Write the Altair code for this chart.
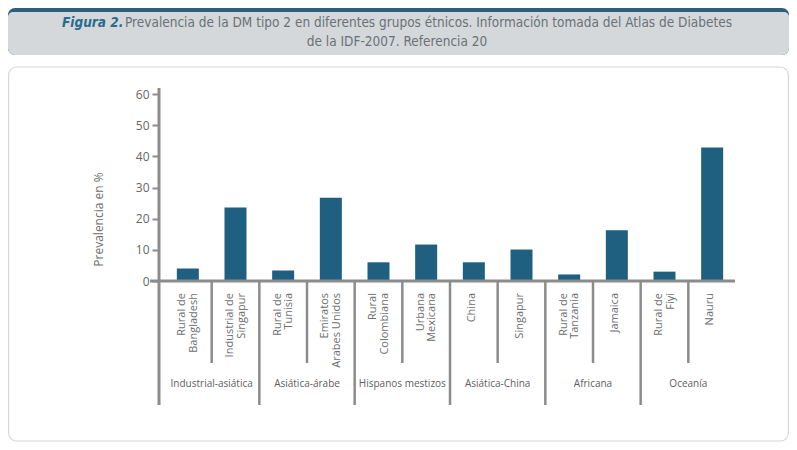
import altair as alt
import pandas as pd

# ---- data ----
categories = ["Rural de\nBangladesh", "Industrial de\nSingapur", "Rural de\nTunisia",
              "Emiratos\nArabes Unidos", "Rural\nColombiana", "Urbana\nMexicana",
              "China", "Singapur", "Rural de\nTanzania", "Jamaica", "Rural de\nFiyi", "Nauru"]
values = [4.0, 23.6, 3.4, 26.7, 6.0, 11.7, 6.0, 10.1, 2.1, 16.3, 3.0, 42.8]
groups = ["Industrial-asiática", "Asiática-árabe", "Hispanos mestizos",
          "Asiática-China", "Africana", "Oceanía"]
y_ticks = [0, 10, 20, 30, 40, 50, 60]

title_bold = "Figura 2."
title_line1 = "Prevalencia de la DM tipo 2 en diferentes grupos étnicos. Información tomada del Atlas de Diabetes"
title_line2 = "de la IDF-2007. Referencia 20"

bars_df = pd.DataFrame({"pos": [i + 0.5 for i in range(len(categories))],
                        "label": categories, "value": values,
                        "lines": [c.count("\n") + 1 for c in categories]})
groups_df = pd.DataFrame({"pos": [2 * k + 1 for k in range(len(groups))], "group": groups})
outer_sep = pd.DataFrame({"pos": [2 * k for k in range(1, len(groups))]})
inner_sep = pd.DataFrame({"pos": [2 * k + 1 for k in range(len(groups))]})
dummy = pd.DataFrame({"a": [0]})

BAR = "#1f5f80"
AX = "#8c8c8c"
TXT = "#6e6e6e"
FONT = "Open Sans"
NARROW = "Liberation Sans Narrow, DejaVu Sans Condensed, Roboto Condensed, sans-serif"

W, H = 582, 187
xs = alt.Scale(domain=[0, 12], nice=False, zero=False)
ys = alt.Scale(domain=[0, 60], nice=False)

# decorative header + panel
header_teal = alt.Chart(dummy).mark_rect(color="#2b5f7b", cornerRadius=7).encode(
    x=alt.value(-151), x2=alt.value(630), y=alt.value(-86), y2=alt.value(-39))
header_gray = alt.Chart(dummy).mark_rect(color="#d4d8db", cornerRadiusBottomLeft=7,
                                         cornerRadiusBottomRight=7, cornerRadiusTopLeft=5,
                                         cornerRadiusTopRight=5).encode(
    x=alt.value(-151), x2=alt.value(630), y=alt.value(-82), y2=alt.value(-39))
panel = alt.Chart(dummy).mark_rect(fill="white", stroke="#d8d8d8", strokeWidth=1.2,
                                   cornerRadius=8).encode(
    x=alt.value(-150.4), x2=alt.value(629.4), y=alt.value(-27), y2=alt.value(347))

t_bold = alt.Chart(dummy).mark_text(text=title_bold, font=NARROW, fontSize=13.5, fontWeight="bold",
                                    fontStyle="italic", color="#2a6a8e", align="left",
                                    baseline="middle").encode(x=alt.value(-97), y=alt.value(-71))
t_l1 = alt.Chart(dummy).mark_text(text=title_line1, font=NARROW, fontSize=13.5, color="#6b7176",
                                  align="left", baseline="middle").encode(
    x=alt.value(-34), y=alt.value(-71))
t_l2 = alt.Chart(dummy).mark_text(text=title_line2, font=NARROW, fontSize=13.5, color="#6b7176",
                                  align="center", baseline="middle").encode(
    x=alt.value(238), y=alt.value(-52))

bars = alt.Chart(bars_df).mark_bar(size=22, color=BAR).encode(
    x=alt.X("pos:Q", scale=xs, axis=None),
    y=alt.Y("value:Q", scale=ys,
            axis=alt.Axis(values=y_ticks, domain=False, grid=False, tickColor=AX, tickWidth=2,
                          tickSize=7, labelColor="#666666", labelFont=FONT, labelFontSize=12,
                          labelPadding=3, title="Prevalencia en %", titleFont=FONT,
                          titleFontSize=12, titleFontWeight="normal", titleColor=TXT,
                          titleAngle=270, titleX=-61, titleY=125, titleAlign="center",
                          titleBaseline="middle", zindex=2)),
)

y_line = alt.Chart(dummy).mark_rule(color=AX, strokeWidth=3).encode(
    x=alt.value(0), y=alt.value(-6), y2=alt.value(311))
x_line = alt.Chart(dummy).mark_rule(color=AX, strokeWidth=3).encode(
    x=alt.value(-9), x2=alt.value(576), y=alt.value(H))

outer = alt.Chart(outer_sep).mark_rule(color=AX, strokeWidth=2.5).encode(
    x=alt.X("pos:Q", scale=xs), y=alt.value(H), y2=alt.value(311))
inner = alt.Chart(inner_sep).mark_rule(color=AX, strokeWidth=2.5).encode(
    x=alt.X("pos:Q", scale=xs), y=alt.value(H), y2=alt.value(269))

cat2 = alt.Chart(bars_df).transform_filter("datum.lines == 2").mark_text(
    angle=270, align="right", baseline="middle", lineBreak="\n", font=FONT, fontSize=11,
    color=TXT, lineHeight=11.5, dy=-5.5).encode(
    x=alt.X("pos:Q", scale=xs), y=alt.value(199), text="label:N")
cat1 = alt.Chart(bars_df).transform_filter("datum.lines == 1").mark_text(
    angle=270, align="right", baseline="middle", font=FONT, fontSize=11,
    color=TXT, dy=-2).encode(
    x=alt.X("pos:Q", scale=xs), y=alt.value(199), text="label:N")

grp_text = alt.Chart(groups_df).mark_text(font=FONT, fontSize=10, color="#606060",
                                          baseline="middle").encode(
    x=alt.X("pos:Q", scale=xs), y=alt.value(290), text="group:N")

chart = alt.layer(panel, header_teal, header_gray, t_bold, t_l1, t_l2,
                  bars, outer, inner, y_line, x_line, cat2, cat1, grp_text).properties(
    width=W, height=H,
    autosize=alt.AutoSizeParams(type="none"),
    padding={"left": 151, "top": 86, "right": 48, "bottom": 161},
).configure_view(stroke=None)

chart.save("out.html", embed_options={"renderer": "svg", "actions": False})
